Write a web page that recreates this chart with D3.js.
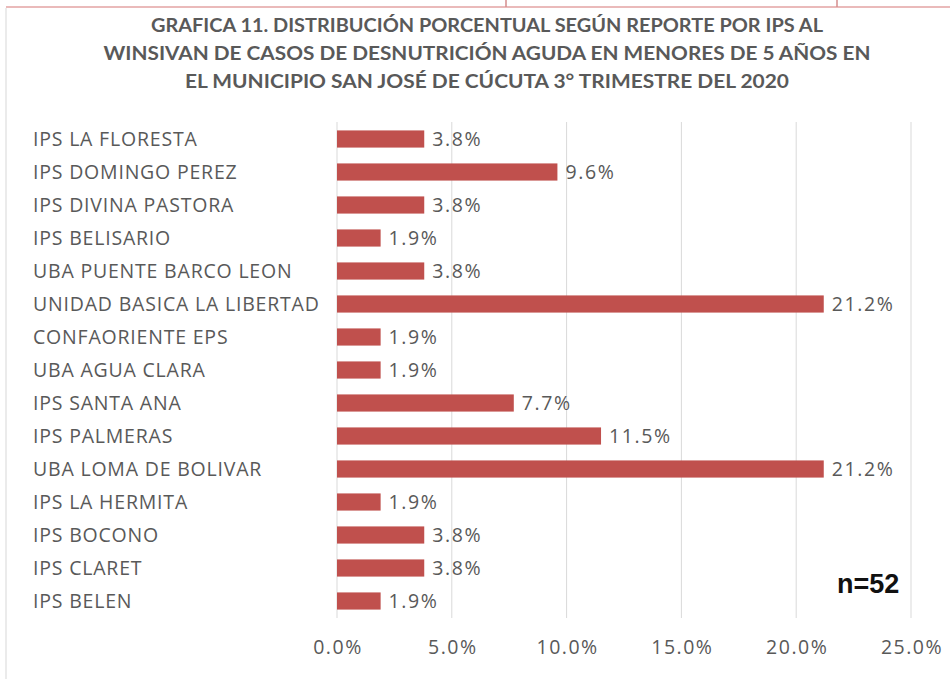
<!DOCTYPE html>
<html>
<head>
<meta charset="utf-8">
<script src="https://cdn.jsdelivr.net/npm/d3@7"></script>
<style>
    body { margin: 0; background: #fff; }
    svg { display: block; }
    text { font-family: 'Open Sans', 'Noto Sans', sans-serif; }
</style>
</head>
<body>
<script>
const categories = [
    'IPS LA FLORESTA', 'IPS DOMINGO PEREZ', 'IPS DIVINA PASTORA', 'IPS BELISARIO',
    'UBA PUENTE BARCO LEON', 'UNIDAD BASICA LA LIBERTAD', 'CONFAORIENTE EPS',
    'UBA AGUA CLARA', 'IPS SANTA ANA', 'IPS PALMERAS', 'UBA LOMA DE BOLIVAR',
    'IPS LA HERMITA', 'IPS BOCONO', 'IPS CLARET', 'IPS BELEN'
]
const values = [3.8, 9.6, 3.8, 1.9, 3.8, 21.2, 1.9, 1.9, 7.7, 11.5, 21.2, 1.9, 3.8, 3.8, 1.9]
const ticks = [0, 5, 10, 15, 20, 25]
const titleLines = [
    'GRAFICA 11. DISTRIBUCIÓN PORCENTUAL SEGÚN REPORTE POR IPS AL',
    'WINSIVAN DE CASOS DE DESNUTRICIÓN AGUDA EN MENORES DE 5 AÑOS EN',
    'EL MUNICIPIO SAN JOSÉ DE CÚCUTA 3° TRIMESTRE DEL 2020'
]
const note = 'n=52'

const width = 950
const height = 679
const textColor = '#595959'
const barColor = '#C0504D'

const svg = d3.select('body').append('svg')
    .attr('width', width)
    .attr('height', height)

// frame remnants from the cropped screenshot
svg.append('line')
    .attr('x1', 6).attr('x2', width).attr('y1', 7).attr('y2', 7)
    .attr('stroke', '#e3a3a3').attr('stroke-width', 1.5)
svg.append('line')
    .attr('x1', 6).attr('x2', 6).attr('y1', 8).attr('y2', height)
    .attr('stroke', '#e4e4e4').attr('stroke-width', 1.5)
;[506, 837].forEach(x => {
    svg.append('line')
        .attr('x1', x).attr('x2', x).attr('y1', 0).attr('y2', 7)
        .attr('stroke', '#d58c8c').attr('stroke-width', 1.5)
})

// title
const titleWidths = [672, 767, 604]
svg.selectAll('text.title')
    .data(titleLines)
    .enter()
    .append('text')
    .attr('class', 'title')
    .attr('x', 487)
    .attr('y', (d, i) => 32 + i * 28)
    .attr('text-anchor', 'middle')
    .attr('textLength', (d, i) => titleWidths[i])
    .attr('lengthAdjust', 'spacingAndGlyphs')
    .style('font-family', 'Lato, sans-serif')
    .style('font-size', '19px')
    .style('font-weight', 'bold')
    .style('fill', textColor)
    .text(d => d)

const x = d3.scaleLinear()
    .domain([0, 25])
    .range([337, 911])

const y = d3.scaleBand()
    .domain(categories)
    .range([122.5, 617.5])
    .paddingInner(0.48)
    .paddingOuter(0.24)

// gridlines
svg.selectAll('line.grid')
    .data(ticks)
    .enter()
    .append('line')
    .attr('class', 'grid')
    .attr('x1', d => x(d))
    .attr('x2', d => x(d))
    .attr('y1', 122)
    .attr('y2', 618)
    .attr('stroke', '#d9d9d9')
    .attr('stroke-width', 1)

// x tick labels
svg.selectAll('text.tick')
    .data(ticks)
    .enter()
    .append('text')
    .attr('class', 'tick')
    .attr('x', d => x(d) + 1)
    .attr('y', 654)
    .attr('text-anchor', 'middle')
    .style('font-size', '19.5px')
    .style('letter-spacing', '1.5px')
    .style('fill', textColor)
    .text(d => d.toFixed(1) + '%')

// category labels
svg.selectAll('text.cat')
    .data(categories)
    .enter()
    .append('text')
    .attr('class', 'cat')
    .attr('x', 33)
    .attr('y', d => y(d) + y.bandwidth() / 2 + 7)
    .style('font-size', '19.5px')
    .style('letter-spacing', '0.8px')
    .style('fill', textColor)
    .text(d => d)

// bars
svg.selectAll('rect.bar')
    .data(values)
    .enter()
    .append('rect')
    .attr('class', 'bar')
    .attr('x', x(0))
    .attr('y', (d, i) => y(categories[i]))
    .attr('width', d => x(d) - x(0))
    .attr('height', y.bandwidth())
    .attr('fill', barColor)

// value labels
svg.selectAll('text.value')
    .data(values)
    .enter()
    .append('text')
    .attr('class', 'value')
    .attr('x', d => x(d) + 8)
    .attr('y', (d, i) => y(categories[i]) + y.bandwidth() / 2 + 7)
    .style('font-size', '19.5px')
    .style('letter-spacing', '1.6px')
    .style('fill', textColor)
    .text(d => d.toFixed(1) + '%')

svg.append('text')
    .attr('x', 837)
    .attr('y', 593)
    .style('font-family', "'Liberation Sans', Arial, sans-serif")
    .style('font-size', '27px')
    .style('font-weight', 'bold')
    .style('fill', '#111')
    .text(note)
</script>
</body>
</html>
